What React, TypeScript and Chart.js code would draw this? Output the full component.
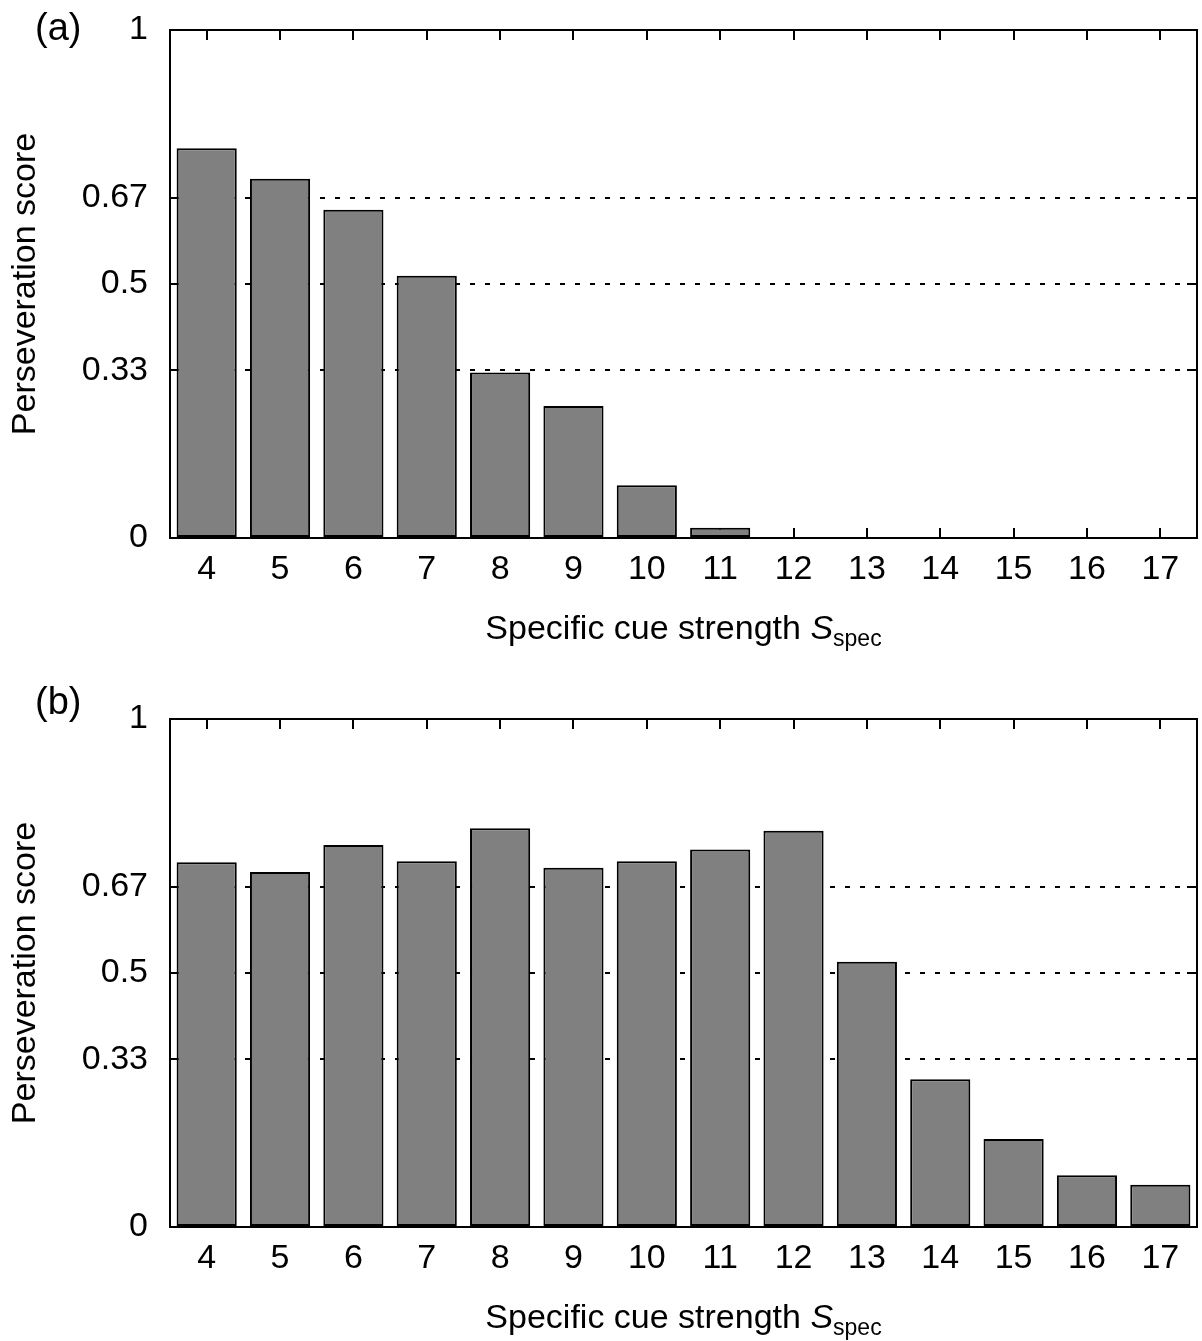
import React, { useEffect, useRef } from 'react';
import { Chart, registerables } from 'chart.js';

Chart.register(...registerables);

// ---------- data ----------
const categories = ['4', '5', '6', '7', '8', '9', '10', '11', '12', '13', '14', '15', '16', '17'];
const scoresA = [0.767, 0.707, 0.646, 0.516, 0.326, 0.26, 0.104, 0.02, 0, 0, 0, 0, 0, 0];
const scoresB = [0.718, 0.699, 0.752, 0.72, 0.785, 0.707, 0.72, 0.743, 0.78, 0.522, 0.291, 0.173, 0.102, 0.083];
const yTickValues = [0, 0.33, 0.5, 0.67, 1];
const dottedLevels = [0.33, 0.5, 0.67];
const yAxisTitle = 'Perseveration score';
const xTitleMain = 'Specific cue strength ';
const xTitleSymbol = 'S';
const xTitleSub = 'spec';
const panelLabels = ['(a)', '(b)'];

const FONT = '"Liberation Sans", Arial, Helvetica, sans-serif';

const framePlugin = {
  id: 'frame',
  beforeDatasetsDraw(chart: any) {
    const { ctx, chartArea: a, scales } = chart;
    const x = scales.x;
    const y = scales.y;
    ctx.save();
    ctx.strokeStyle = '#000';
    ctx.lineWidth = 2;
    ctx.beginPath();
    categories.forEach((_, i) => {
      const px = Math.round(x.getPixelForValue(i));
      ctx.moveTo(px, a.top);
      ctx.lineTo(px, a.top + 10);
      ctx.moveTo(px, a.bottom);
      ctx.lineTo(px, a.bottom - 10);
    });
    dottedLevels.forEach((v) => {
      const py = Math.round(y.getPixelForValue(v));
      ctx.moveTo(a.left, py);
      ctx.lineTo(a.left + 10, py);
      ctx.moveTo(a.right, py);
      ctx.lineTo(a.right - 10, py);
    });
    ctx.stroke();
    ctx.restore();
  },
  afterDatasetsDraw(chart: any) {
    const { ctx, chartArea: a } = chart;
    ctx.save();
    ctx.strokeStyle = '#000';
    ctx.lineWidth = 2;
    ctx.strokeRect(a.left, a.top, a.right - a.left, a.bottom - a.top);
    ctx.restore();
  },
  afterDraw(chart: any, _args: any, opts: any) {
    const { ctx, chartArea: a } = chart;
    ctx.save();
    ctx.fillStyle = '#000';
    ctx.textBaseline = 'alphabetic';
    ctx.textAlign = 'left';
    // panel label
    ctx.font = `38px ${FONT}`;
    ctx.fillText(opts.label, 35, opts.labelBaseline);
    // x-axis title with italic S and subscript
    ctx.font = `34px ${FONT}`;
    const w1 = ctx.measureText(xTitleMain).width;
    ctx.font = `italic 34px ${FONT}`;
    const w2 = ctx.measureText(xTitleSymbol).width;
    ctx.font = `23px ${FONT}`;
    const w3 = ctx.measureText(xTitleSub).width;
    const total = w1 + w2 + w3;
    let sx = (a.left + a.right) / 2 - total / 2;
    const base = a.bottom + 101;
    ctx.font = `34px ${FONT}`;
    ctx.fillText(xTitleMain, sx, base);
    sx += w1;
    ctx.font = `italic 34px ${FONT}`;
    ctx.fillText(xTitleSymbol, sx, base);
    sx += w2;
    ctx.font = `23px ${FONT}`;
    ctx.fillText(xTitleSub, sx, base + 7);
    ctx.restore();
  },
};

type PanelProps = {
  label: string;
  values: number[];
  height: number;
  topPad: number;
  xAxisHeight: number;
  labelBaseline: number;
  top: number;
};

function Panel({ label, values, height, topPad, xAxisHeight, labelBaseline, top }: PanelProps) {
  const ref = useRef<HTMLCanvasElement | null>(null);
  useEffect(() => {
    if (!ref.current) return;
    const chart = new Chart(ref.current, {
      type: 'bar',
      data: {
        labels: categories,
        datasets: [
          {
            data: values,
            backgroundColor: '#808080',
            borderColor: '#000',
            borderWidth: 2,
            borderSkipped: false,
            barPercentage: 0.82,
            categoryPercentage: 1,
          },
        ],
      },
      plugins: [framePlugin],
      options: {
        responsive: false,
        animation: false,
        layout: { padding: { left: 0, right: 5, top: topPad, bottom: 0 } },
        plugins: {
          legend: { display: false },
          tooltip: { enabled: false },
          frame: { label, labelBaseline },
        } as any,
        scales: {
          x: {
            grid: { display: false, drawTicks: false },
            border: { display: false },
            ticks: {
              color: '#000',
              font: { family: FONT, size: 34 },
              padding: 11,
              maxRotation: 0,
              autoSkip: false,
            },
            afterFit: (s: any) => {
              s.height = xAxisHeight;
            },
          },
          y: {
            min: 0,
            max: 1,
            afterBuildTicks: (s: any) => {
              s.ticks = yTickValues.map((v) => ({ value: v }));
            },
            grid: {
              drawTicks: false,
              lineWidth: 2,
              color: (c: any) =>
                c.tick && (c.tick.value === 0 || c.tick.value === 1) ? 'rgba(0,0,0,0)' : '#000',
            },
            border: { display: false, dash: [5, 10] },
            ticks: {
              color: '#000',
              font: { family: FONT, size: 34 },
              padding: 22,
              callback: (v: any) => String(v),
            },
            title: {
              display: true,
              text: yAxisTitle,
              color: '#000',
              font: { family: FONT, size: 34 },
              padding: { top: 5, bottom: 0 },
            },
            afterFit: (s: any) => {
              s.width = 170;
            },
          },
        },
      } as any,
    });
    return () => chart.destroy();
  }, []);
  return (
    <canvas
      ref={ref}
      width={1202}
      height={height}
      style={{ position: 'absolute', left: 0, top, width: 1202, height, display: 'block' }}
    />
  );
}

export default function App() {
  return (
    <div style={{ position: 'absolute', left: 0, top: 0, width: 1202, height: 1341, background: '#fff', overflow: 'hidden' }}>
      <Panel label={panelLabels[0]} values={scoresA} height={690} topPad={50} xAxisHeight={132} labelBaseline={60} top={-20} />
      <Panel label={panelLabels[1]} values={scoresB} height={671} topPad={49} xAxisHeight={114} labelBaseline={44} top={670} />
    </div>
  );
}
